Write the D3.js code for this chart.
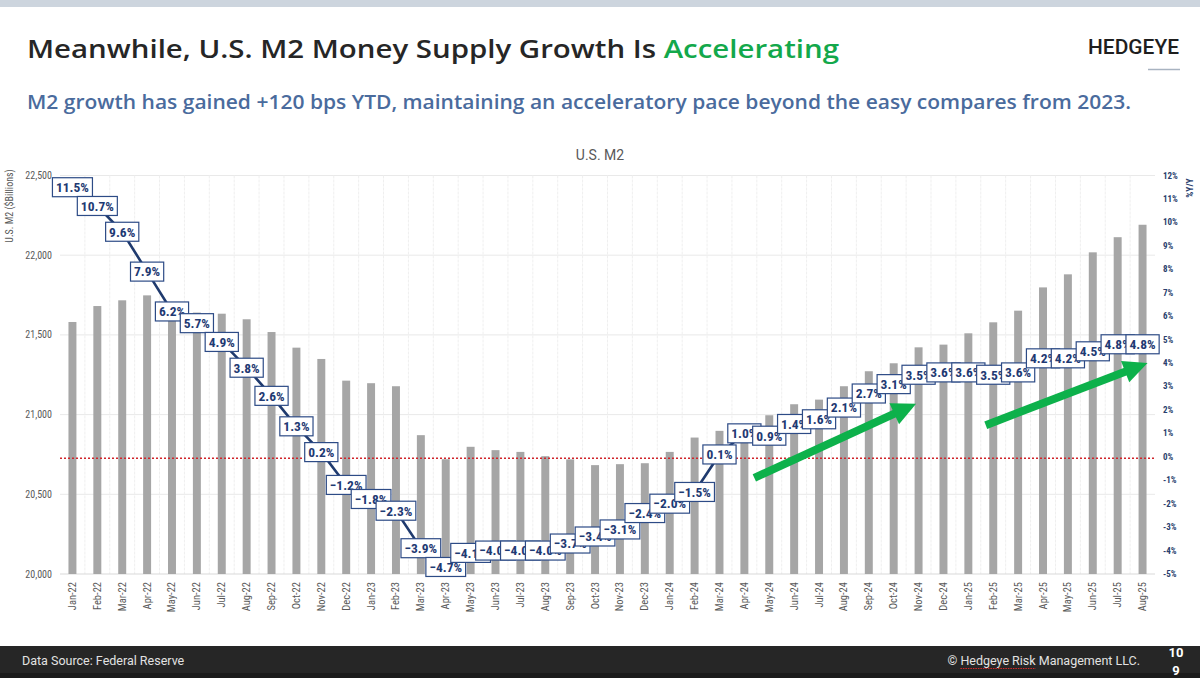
<!DOCTYPE html>
<html>
<head>
<meta charset="utf-8">
<script src="https://cdn.jsdelivr.net/npm/d3@7"></script>
<style>
  html, body { margin: 0; padding: 0; background: #ffffff; }
  svg { display: block; }
</style>
</head>
<body>
<svg id="chart" width="1200" height="678"></svg>
<script>
// ---------------- DATA ----------------
const months = ["Jan-22","Feb-22","Mar-22","Apr-22","May-22","Jun-22","Jul-22","Aug-22","Sep-22","Oct-22","Nov-22","Dec-22",
  "Jan-23","Feb-23","Mar-23","Apr-23","May-23","Jun-23","Jul-23","Aug-23","Sep-23","Oct-23","Nov-23","Dec-23",
  "Jan-24","Feb-24","Mar-24","Apr-24","May-24","Jun-24","Jul-24","Aug-24","Sep-24","Oct-24","Nov-24","Dec-24",
  "Jan-25","Feb-25","Mar-25","Apr-25","May-25","Jun-25","Jul-25","Aug-25"];

// U.S. M2 level, $ billions (bars, left axis)
const m2Billions = [21581, 21681, 21717, 21748, 21650, 21640, 21633, 21598, 21518, 21420, 21349, 21213,
  21197, 21178, 20871, 20720, 20798, 20777, 20766, 20739, 20719, 20683, 20689, 20695,
  20766, 20856, 20898, 20935, 20996, 21065, 21094, 21178, 21272, 21322, 21422, 21439,
  21510, 21579, 21652, 21798, 21880, 22018, 22113, 22191];

// M2 growth, % Y/Y (line, right axis)
const yoyPct = [11.5, 10.7, 9.6, 7.9, 6.2, 5.7, 4.9, 3.8, 2.6, 1.3, 0.2, -1.2,
  -1.8, -2.3, -3.9, -4.7, -4.1, -4.0, -4.0, -4.0, -3.7, -3.4, -3.1, -2.4,
  -2.0, -1.5, 0.1, 1.0, 0.9, 1.4, 1.6, 2.1, 2.7, 3.1, 3.5, 3.6,
  3.6, 3.5, 3.6, 4.2, 4.2, 4.5, 4.8, 4.8];

const leftTicks = [20000, 20500, 21000, 21500, 22000, 22500];
const rightTicks = [-5, -4, -3, -2, -1, 0, 1, 2, 3, 4, 5, 6, 7, 8, 9, 10, 11, 12];

// Green trend arrows: [month position (fractional index), % Y/Y]
const arrowStarts = [[27.4, -0.9], [36.7, 1.35]];
const arrowEnds   = [[33.9, 2.26], [43.2, 4.0]];

// ---------------- LAYOUT ----------------
const svg = d3.select("#chart");
const plot = { left: 60, right: 1155, top: 175.5, bottom: 574 };

const x = d3.scaleBand().domain(months).range([plot.left, plot.right]).paddingInner(0.68).paddingOuter(0.34);
const step = x.step();
const xc = d => x(d) + x.bandwidth() / 2;
const xIdx = i => plot.left + step * (i + 0.5);

const yL = d3.scaleLinear().domain([20000, 22500]).range([plot.bottom, plot.top]);
const yR = d3.scaleLinear().domain([-5, 12]).range([plot.bottom, plot.top]);

// top band
svg.append("rect").attr("x", 0).attr("y", 0).attr("width", 1200).attr("height", 7).attr("fill", "#cdd5de");

// Title
const title = svg.append("text").attr("x", 27).attr("y", 58)
  .attr("font-family", "'Open Sans', Roboto, sans-serif").attr("font-weight", 600).attr("font-size", 25.5)
  .attr("fill", "#262626").attr("textLength", 812).attr("lengthAdjust", "spacingAndGlyphs");
title.append("tspan").text("Meanwhile, U.S. M2 Money Supply Growth Is ");
title.append("tspan").attr("fill", "#13a84b").text("Accelerating");

// Logo
svg.append("text").attr("x", 1088).attr("y", 54)
  .attr("font-family", "Roboto, sans-serif").attr("font-weight", 500).attr("font-size", 19.5)
  .attr("fill", "#1e1e1e").attr("textLength", 91).attr("lengthAdjust", "spacingAndGlyphs").text("HEDGEYE");
svg.append("line").attr("x1", 1148).attr("x2", 1180).attr("y1", 69.5).attr("y2", 69.5)
  .attr("stroke", "#a8b3c1").attr("stroke-width", 1.5);

// Subtitle
svg.append("text").attr("x", 27).attr("y", 108.5)
  .attr("font-family", "'Open Sans', Roboto, sans-serif").attr("font-weight", 600).attr("font-size", 19)
  .attr("fill", "#4a6b9d").attr("textLength", 1104).attr("lengthAdjust", "spacingAndGlyphs")
  .text("M2 growth has gained +120 bps YTD, maintaining an acceleratory pace beyond the easy compares from 2023.");

// Chart title
svg.append("text").attr("x", 600).attr("y", 160).attr("text-anchor", "middle")
  .attr("font-family", "Roboto, sans-serif").attr("font-size", 14).attr("fill", "#595959").text("U.S. M2");

// ---------------- GRID ----------------
const g = svg.append("g");
g.selectAll("line.hgrid").data(leftTicks.slice(1)).enter().append("line")
  .attr("x1", plot.left).attr("x2", plot.right)
  .attr("y1", d => yL(d)).attr("y2", d => yL(d))
  .attr("stroke", "#e9e9e9").attr("stroke-width", 1);

g.selectAll("line.vgrid").data(months.slice(1)).enter().append("line")
  .attr("x1", d => x(d) - step * 0.34 ).attr("x2", d => x(d) - step * 0.34)
  .attr("y1", plot.top).attr("y2", plot.bottom)
  .attr("stroke", "#efefef").attr("stroke-width", 1).attr("stroke-dasharray", "3,1");

// x baseline
g.append("line").attr("x1", plot.left).attr("x2", plot.right).attr("y1", plot.bottom).attr("y2", plot.bottom)
  .attr("stroke", "#d9d9d9").attr("stroke-width", 1);

// ---------------- BARS ----------------
g.selectAll("rect.bar").data(months).enter().append("rect")
  .attr("x", d => x(d)).attr("width", x.bandwidth())
  .attr("y", (d, i) => yL(m2Billions[i])).attr("height", (d, i) => plot.bottom - yL(m2Billions[i]))
  .attr("fill", "#a6a6a6");

// zero line (right axis)
g.append("line").attr("x1", plot.left).attr("x2", plot.right).attr("y1", yR(0) + 1.5).attr("y2", yR(0) + 1.5)
  .attr("stroke", "#d0242b").attr("stroke-width", 1.6).attr("stroke-dasharray", "2,2");

// ---------------- AXES TEXT ----------------
const axisFont = "'Liberation Sans Narrow', 'Roboto Condensed', Roboto, sans-serif";
g.selectAll("text.lt").data(leftTicks).enter().append("text")
  .attr("x", 52).attr("y", d => yL(d) + 3.5).attr("text-anchor", "end")
  .attr("font-family", axisFont).attr("font-size", 10).attr("fill", "#595959")
  .text(d => d3.format(",")(d));

g.selectAll("text.rt").data(rightTicks).enter().append("text")
  .attr("x", 1163).attr("y", d => yR(d) + 3)
  .attr("font-family", axisFont).attr("font-size", 9).attr("font-weight", "bold").attr("fill", "#2a3f6e")
  .text(d => d + "%");

g.append("text").attr("transform", `translate(13,206) rotate(-90)`).attr("text-anchor", "middle")
  .attr("font-family", axisFont).attr("font-size", 10).attr("fill", "#595959").text("U.S. M2 ($Billions)");

g.append("text").attr("transform", `translate(1193,188) rotate(-90)`).attr("text-anchor", "middle")
  .attr("font-family", axisFont).attr("font-size", 9.5).attr("font-weight", "bold").attr("fill", "#2a3f6e").text("%Y/Y");

g.selectAll("text.xl").data(months).enter().append("text")
  .attr("transform", d => `translate(${xc(d) + 3.5},582) rotate(-90)`).attr("text-anchor", "end")
  .attr("font-family", axisFont).attr("font-size", 10.5).attr("fill", "#595959")
  .text(d => d);

// ---------------- LINE ----------------
const line = d3.line().x((d, i) => xIdx(i)).y(d => yR(d));
g.append("path").datum(yoyPct).attr("d", line).attr("fill", "none")
  .attr("stroke", "#1f3a6e").attr("stroke-width", 2.6);

// ---------------- DATA LABELS ----------------
const lblFont = "'Liberation Sans Narrow', 'Roboto Condensed', 'Liberation Sans', sans-serif";
yoyPct.forEach((v, i) => {
  const lg = g.append("g").attr("transform", `translate(${xIdx(i)},${yR(v)})`);
  const r = lg.append("rect").attr("fill", "#ffffff").attr("stroke", "#2d4b86").attr("stroke-width", 1.2);
  const t = lg.append("text").attr("text-anchor", "middle").attr("y", 4.8)
    .attr("font-family", lblFont).attr("font-weight", "bold").attr("font-size", 13.5)
    .attr("fill", "#1f3a73").text(d3.format(".1f")(v) + "%");
  const w = t.node().getComputedTextLength() + 7;
  r.attr("x", -w / 2).attr("y", -9.5).attr("width", w).attr("height", 19);
});

// ---------------- GREEN ARROWS ----------------
arrowStarts.forEach((s, k) => {
  const e = arrowEnds[k];
  const x0 = xIdx(s[0]), y0 = yR(s[1]), x1 = xIdx(e[0]), y1 = yR(e[1]);
  const dx = x1 - x0, dy = y1 - y0, len = Math.hypot(dx, dy);
  const ux = dx / len, uy = dy / len, nx = -uy, ny = ux;
  const headL = 24, headW = 11.5;
  const bx = x1 - ux * headL, by = y1 - uy * headL;
  g.append("line").attr("x1", x0).attr("y1", y0).attr("x2", bx + ux * 2).attr("y2", by + uy * 2)
    .attr("stroke", "#0db14b").attr("stroke-width", 8);
  g.append("polygon")
    .attr("points", [[x1, y1], [bx + nx * headW, by + ny * headW], [bx - nx * headW, by - ny * headW]].map(p => p.join(",")).join(" "))
    .attr("fill", "#0db14b");
});

// ---------------- FOOTER ----------------
svg.append("rect").attr("x", 0).attr("y", 646).attr("width", 1200).attr("height", 32).attr("fill", "#262626");
svg.append("rect").attr("x", 0).attr("y", 673).attr("width", 1200).attr("height", 5).attr("fill", "#1b1b1b");
svg.append("text").attr("x", 22).attr("y", 665)
  .attr("font-family", "Roboto, sans-serif").attr("font-size", 12.5).attr("fill", "#e2e2e2")
  .text("Data Source: Federal Reserve");
const copy = svg.append("text").attr("x", 1140).attr("y", 665).attr("text-anchor", "end")
  .attr("font-family", "Roboto, sans-serif").attr("font-size", 12.5).attr("fill", "#e2e2e2")
  .text("© Hedgeye Risk Management LLC.");
// spell-check squiggle under "Hedgeye Risk"
(function () {
  const node = copy.node();
  const total = node.getComputedTextLength();
  const startX = 1140 - total;
  const a = startX + node.getSubStringLength(0, 2);
  const b = startX + node.getSubStringLength(0, 14);
  svg.append("line").attr("x1", a).attr("x2", b).attr("y1", 668.5).attr("y2", 668.5)
    .attr("stroke", "#d42a2a").attr("stroke-width", 1).attr("stroke-dasharray", "1.5,1");
})();
svg.append("text").attr("x", 1176).attr("y", 657).attr("text-anchor", "middle")
  .attr("font-family", "Roboto, sans-serif").attr("font-weight", "bold").attr("font-size", 13).attr("fill", "#ffffff").text("10");
svg.append("text").attr("x", 1176).attr("y", 675).attr("text-anchor", "middle")
  .attr("font-family", "Roboto, sans-serif").attr("font-weight", "bold").attr("font-size", 13).attr("fill", "#ffffff").text("9");
</script>
</body>
</html>
